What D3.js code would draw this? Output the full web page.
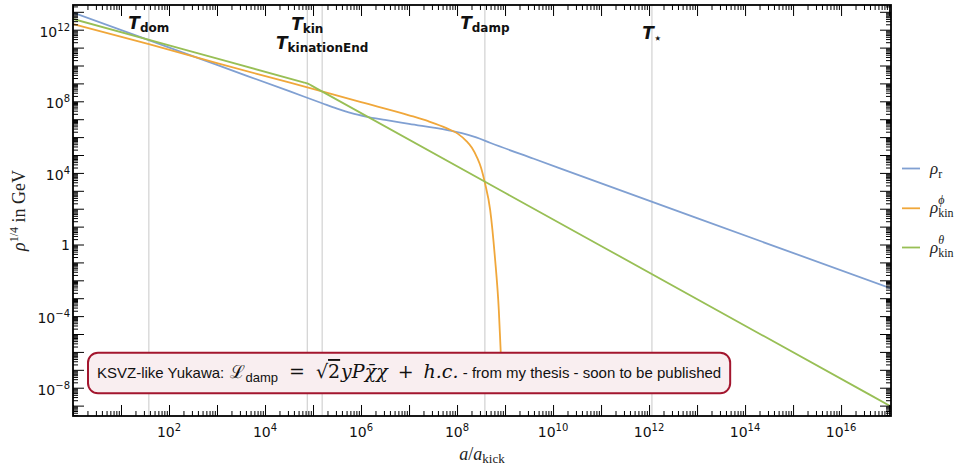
<!DOCTYPE html>
<html>
<head>
<meta charset="utf-8">
<script src="https://cdn.jsdelivr.net/npm/d3@7"></script>
<style>
body { margin: 0; background: #fff; }
</style>
</head>
<body>
<div id="chart"></div>
<script>

// values, stored as log10(a/a_kick) and log10(rho^(1/4) / GeV)
var aLabelExps = [2, 4, 6, 8, 10, 12, 14, 16];
var rhoLabelExps = [12, 8, 4, 0, -4, -8];

var rLogA   = [0, 1.58, 3.0, 4.52, 5.19, 5.5, 5.8, 6.1, 6.5, 7.0, 7.8, 8.1, 8.4, 8.7, 9.6, 13.0, 17.04];
var rLogRho = [12.96, 11.42, 10.03, 8.55, 7.89, 7.59, 7.335, 7.15, 6.96, 6.74, 6.39, 6.22, 5.98, 5.67, 4.79, 1.47, -2.45];

var phiLogA   = [0, 1.6, 3.0, 4.52, 6.0, 7.0, 7.4, 7.79, 8.02, 8.19, 8.31, 8.42, 8.5, 8.58, 8.69, 8.79, 8.87, 8.91, 8.94];
var phiLogRho = [12.32, 11.18, 10.13, 9.04, 7.95, 7.22, 6.89, 6.49, 6.18, 5.79, 5.40, 4.84, 4.29, 3.45, 1.94, -0.74, -3.65, -5.99, -7.56];

var thetaLogA   = [0, 2.4, 4.8, 4.88, 4.96, 5.1, 11.0, 17.04];
var thetaLogRho = [12.60, 10.83, 9.06, 9.00, 8.89, 8.68, -0.08, -9.05];

var markerNames = ["dom", "kin", "kinationEnd", "damp", "\u22c6"];
var markerLogA  = [1.58, 4.88, 5.19, 8.58, 12.06];

var legendKeys = ["r", "phi", "theta"];


RhoChart = function(container){

    this.container = container;
    this.full_width = 957;
    this.full_height = 467;
    this.margin = {left: 73, top: 5, right: 66, bottom: 51};

    this.colors = {r: "#80a0d2", phi: "#f0a73a", theta: "#98bf55"};

    this._init();
};

RhoChart.prototype._init = function(){

    this._build_graph();
    this._draw_markers();
    this._draw_lines();
    this._draw_note();
    this._draw_axes();
    this._draw_axis_labels();
    this._draw_legend();

};

RhoChart.prototype._build_graph = function(){

    var m = this.margin;

    this.width = this.full_width - m.left - m.right;
    this.height = this.full_height - m.top - m.bottom;

    this._svg = d3.select(this.container)
        .append("svg")
        .attr("width", this.full_width)
        .attr("height", this.full_height)
        .style("display", "block")
        .style("background", "#fff");

    this._svg.append("defs").append("clipPath")
        .attr("id", "plotClip")
        .append("rect")
        .attr("width", this.width)
        .attr("height", this.height);

    this._chart = this._svg.append("g")
        .attr("transform", "translate(" + m.left + "," + m.top + ")");

    this.x = d3.scaleLog()
        .domain([1, Math.pow(10, 17.04)])
        .range([0, this.width]);

    this.y = d3.scaleLog()
        .domain([Math.pow(10, -9.58), Math.pow(10, 13.38)])
        .range([this.height, 0]);

};

RhoChart.prototype._draw_markers = function(){

    var self = this;
    // label baselines (plot coords), picked so the labels sit like in the original
    var baselines = [20, 20.5, 40, 19.5, 30];

    var g = this._chart.append("g");

    g.selectAll("line.marker")
        .data(markerLogA)
        .enter()
        .append("line")
        .attr("class", "marker")
        .attr("x1", function(d){ return self.x(Math.pow(10, d)); })
        .attr("x2", function(d){ return self.x(Math.pow(10, d)); })
        .attr("y1", 0)
        .attr("y2", this.height)
        .style("stroke", "#cdcdcd")
        .style("stroke-width", 1.1);

    markerNames.forEach(function(name, i){
        var t = g.append("text")
            .attr("x", self.x(Math.pow(10, markerLogA[i])))
            .attr("y", baselines[i] + 4)
            .attr("text-anchor", "middle")
            .style("font-family", "'DejaVu Sans', sans-serif")
            .style("font-weight", "bold")
            .style("fill", "#111");
        t.append("tspan")
            .style("font-style", "italic")
            .style("font-size", "17px")
            .text("T");
        t.append("tspan")
            .attr("dy", 3)
            .style("font-size", "12px")
            .text(name);
    });

};

RhoChart.prototype._draw_lines = function(){

    var self = this;

    var series = [
        {key: "r", a: rLogA, rho: rLogRho},
        {key: "phi", a: phiLogA, rho: phiLogRho},
        {key: "theta", a: thetaLogA, rho: thetaLogRho}
    ];

    var line = d3.line()
        .x(function(d){ return self.x(Math.pow(10, d[0])); })
        .y(function(d){ return self.y(Math.pow(10, d[1])); })
        .curve(d3.curveMonotoneX);

    var g = this._chart.append("g").attr("clip-path", "url(#plotClip)");

    series.forEach(function(s){
        var pts = s.a.map(function(v, i){ return [v, s.rho[i]]; });
        g.append("path")
            .datum(pts)
            .attr("d", line)
            .style("fill", "none")
            .style("stroke", self.colors[s.key])
            .style("stroke-width", 1.8);
    });

};

RhoChart.prototype._draw_note = function(){

    var g = this._chart.append("g");

    var t = g.append("text")
        .attr("x", 24)
        .attr("y", 373)
        .style("font-family", "'Liberation Sans', Arial, sans-serif")
        .style("font-size", "15px")
        .style("fill", "#111");

    var math = "'DejaVu Serif', serif";

    t.append("tspan").text("KSVZ-like Yukawa: ");
    t.append("tspan").attr("dx", 2).style("font-family", math).style("font-size", "18px").text("\u2112");
    t.append("tspan").attr("dy", 4).style("font-size", "13px").text("damp");
    t.append("tspan").attr("dy", -4).attr("dx", 11).style("font-family", math).style("font-size", "19px").text("=");
    t.append("tspan").attr("dx", 11).style("font-family", math).style("font-size", "19px").text("\u221a");
    t.append("tspan").style("font-family", math).style("font-size", "19px")
        .style("text-decoration", "overline").text("2");
    t.append("tspan").attr("dx", 1).style("font-family", math).style("font-size", "19px").style("font-style", "italic")
        .text("yP\u03c7\u0304\u03c7");
    t.append("tspan").attr("dx", 10).style("font-family", math).style("font-size", "19px").text("+");
    t.append("tspan").attr("dx", 10).style("font-family", math).style("font-size", "19px").style("font-style", "italic").text("h.c.");
    t.append("tspan").text(" - from my thesis - soon to be published");

    var bb = t.node().getBBox();

    g.insert("rect", "text")
        .attr("x", bb.x - 9)
        .attr("y", 347.7)
        .attr("width", bb.width + 18)
        .attr("height", 40.6)
        .attr("rx", 10)
        .attr("ry", 10)
        .style("fill", "#f9eef0")
        .style("stroke", "#a3162e")
        .style("stroke-width", 2);

};

RhoChart.prototype._draw_axes = function(){

    var self = this;
    var w = this.width, h = this.height;

    var xMaj = [], xMin = [], yMaj = [], yMin = [];
    var k, e;
    for (e = 0; e <= 17; e++){
        xMaj.push(Math.pow(10, e));
        for (k = 2; k <= 9; k++) xMin.push(k * Math.pow(10, e));
    }
    for (e = -10; e <= 13; e++){
        yMaj.push(Math.pow(10, e));
        for (k = 2; k <= 9; k++) yMin.push(k * Math.pow(10, e));
    }
    var xd = this.x.domain(), yd = this.y.domain();
    var inX = function(v){ return v >= xd[0] && v <= xd[1]; };
    var inY = function(v){ return v >= yd[0] && v <= yd[1]; };
    xMaj = xMaj.filter(inX); xMin = xMin.filter(inX);
    yMaj = yMaj.filter(inY); yMin = yMin.filter(inY);

    var axes = [
        [d3.axisBottom(this.x), "translate(0," + h + ")", xMaj, xMin],
        [d3.axisTop(this.x), "translate(0,0)", xMaj, xMin],
        [d3.axisLeft(this.y), "translate(0,0)", yMaj, yMin],
        [d3.axisRight(this.y), "translate(" + w + ",0)", yMaj, yMin]
    ];

    axes.forEach(function(a){
        [[a[2], 11], [a[3], 5]].forEach(function(t){
            var ax = a[0].tickValues(t[0]).tickSize(-t[1]).tickSizeOuter(0).tickFormat("");
            var g = self._chart.append("g").attr("transform", a[1]).call(ax);
            g.select(".domain").remove();
            g.selectAll(".tick line").style("stroke", "#000").style("stroke-width", 1);
        });
    });

    this._chart.append("rect")
        .attr("width", w)
        .attr("height", h)
        .style("fill", "none")
        .style("stroke", "#000")
        .style("stroke-width", 1.8);

    var font = "'DejaVu Sans', sans-serif";

    aLabelExps.forEach(function(e){
        var t = self._chart.append("text")
            .attr("x", self.x(Math.pow(10, e)))
            .attr("y", h + 21)
            .attr("text-anchor", "middle")
            .style("font-family", font)
            .style("font-size", "14px")
            .style("fill", "#111");
        t.append("tspan").text("10");
        t.append("tspan").attr("dy", -6).style("font-size", "10px").text(e);
    });

    rhoLabelExps.forEach(function(e){
        var t = self._chart.append("text")
            .attr("x", -3)
            .attr("y", self.y(Math.pow(10, e)) + (e === 0 ? 5.5 : 7))
            .attr("text-anchor", "end")
            .style("font-family", font)
            .style("font-size", "14px")
            .style("fill", "#111");
        if (e === 0){
            t.text("1");
        } else {
            t.append("tspan").text("10");
            t.append("tspan").attr("dy", -6).style("font-size", "10px")
                .text(e < 0 ? "\u2212" + (-e) : e);
        }
    });

};

RhoChart.prototype._draw_axis_labels = function(){

    var serif = "'Liberation Serif', 'DejaVu Serif', serif";
    var m = this.margin;

    var xl = this._svg.append("text")
        .attr("x", m.left + this.width / 2)
        .attr("y", 460)
        .attr("text-anchor", "middle")
        .style("font-family", serif)
        .style("font-size", "18px")
        .style("fill", "#222");
    xl.append("tspan").style("font-style", "italic").text("a");
    xl.append("tspan").text("/");
    xl.append("tspan").style("font-style", "italic").text("a");
    xl.append("tspan").attr("dy", 3).style("font-size", "13px").text("kick");

    var yl = this._svg.append("text")
        .attr("transform", "translate(25," + (m.top + this.height / 2) + ") rotate(-90)")
        .attr("text-anchor", "middle")
        .style("font-family", serif)
        .style("font-size", "18px")
        .style("fill", "#222");
    yl.append("tspan").style("font-style", "italic").text("\u03c1");
    yl.append("tspan").attr("dy", -7).style("font-size", "12px").text("1/4");
    yl.append("tspan").attr("dy", 7).text(" in GeV");

};

RhoChart.prototype._draw_legend = function(){

    var self = this;
    var serif = "'Liberation Serif', 'DejaVu Serif', serif";
    var rowY = [168.5, 208.3, 247.5];
    var sups = {r: null, phi: "\u03d5", theta: "\u03b8"};
    var subs = {r: "r", phi: "kin", theta: "kin"};

    var g = this._svg.append("g");

    legendKeys.forEach(function(key, i){
        g.append("line")
            .attr("x1", 902)
            .attr("x2", 920)
            .attr("y1", rowY[i])
            .attr("y2", rowY[i])
            .style("stroke", self.colors[key])
            .style("stroke-width", 1.8);

        var t = g.append("text")
            .attr("x", 930)
            .attr("y", rowY[i] + 5)
            .style("font-family", serif)
            .style("font-size", "17px")
            .style("fill", "#222");
        t.append("tspan").style("font-style", "italic").text("\u03c1");
        if (sups[key]){
            var sx = t.node().getComputedTextLength();
            t.append("tspan").attr("dy", -9).style("font-size", "12px").style("font-style", "italic").text(sups[key]);
            t.append("tspan").attr("x", 930 + sx).attr("dy", 13).style("font-size", "12px").text(subs[key]);
        } else {
            t.append("tspan").attr("dy", 4).style("font-size", "12px").text(subs[key]);
        }
    });

};

new RhoChart("#chart");

</script>
</body>
</html>
